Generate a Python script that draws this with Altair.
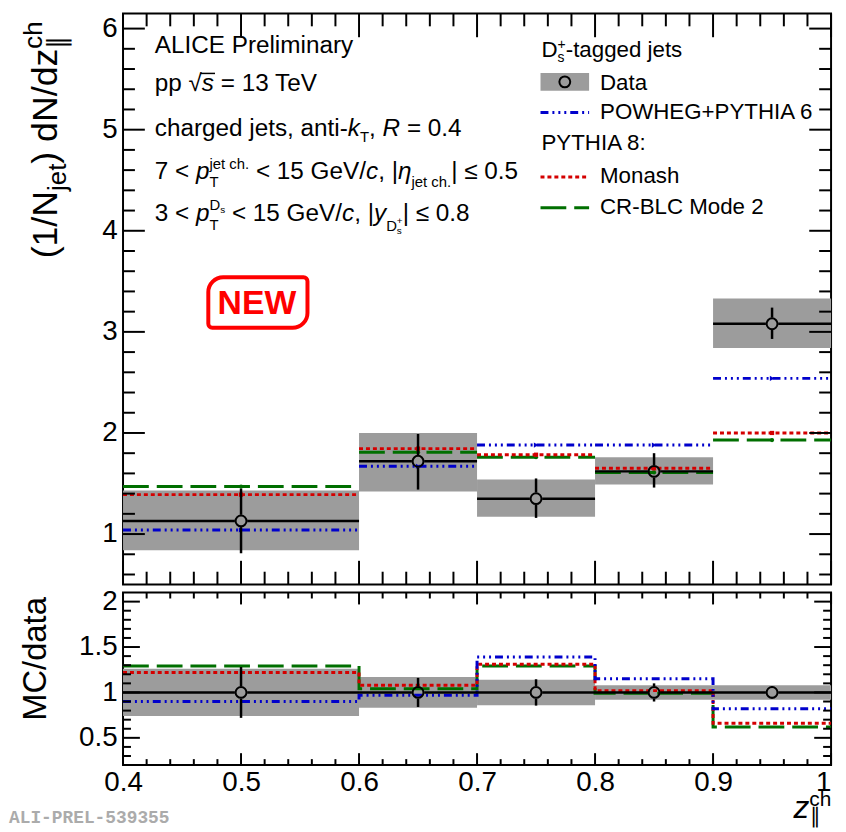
import altair as alt
import pandas as pd
import numpy as np

FONT = "Liberation Sans"
GRAY = "#9c9c9c"
BLUE = "#0000cc"
RED = "#d40000"
GREEN = "#006f00"
DASH_B = [8, 4, 2, 4, 2, 4, 2, 4]
DASH_R = [4, 3]
DASH_G = [26, 8]

# ---------------- data ----------------
bin_lo = [0.4, 0.6, 0.7, 0.8, 0.9]
bin_hi = [0.6, 0.7, 0.8, 0.9, 1.0]
bin_c = [0.5, 0.65, 0.75, 0.85, 0.95]
x_edges = [0.4, 0.6, 0.7, 0.8, 0.9, 1.0]

data_y = [1.13, 1.72, 1.35, 1.62, 3.08]
stat_lo = [0.81, 1.44, 1.16, 1.46, 2.93]
stat_hi = [1.45, 1.99, 1.55, 1.80, 3.24]
sys_lo = [0.84, 1.42, 1.17, 1.49, 2.84]
sys_hi = [1.43, 2.00, 1.54, 1.76, 3.33]
powheg = [1.04, 1.67, 1.88, 1.88, 2.54]
monash = [1.39, 1.845, 1.785, 1.65, 2.00]
crblc = [1.47, 1.81, 1.76, 1.61, 1.93]

r_data = [1.0, 1.0, 1.0, 1.0, 1.0]
r_sys_lo = [0.74, 0.83, 0.86, 0.92, 0.92]
r_sys_hi = [1.26, 1.17, 1.14, 1.08, 1.08]
r_stat_lo = [0.72, 0.84, 0.855, 0.90, 0.95]
r_stat_hi = [1.28, 1.16, 1.145, 1.10, 1.05]
r_powheg = [0.90, 0.97, 1.39, 1.15, 0.82]
r_monash = [1.22, 1.08, 1.31, 1.02, 0.66]
r_crblc = [1.29, 1.04, 1.29, 0.99, 0.62]

up_y_major = [1, 2, 3, 4, 5, 6]
lo_y_major = [0.5, 1, 1.5, 2]
x_major = [0.4, 0.5, 0.6, 0.7, 0.8, 0.9, 1.0]

# ---------------- geometry ----------------
W = 714
H1 = 576
H2 = 174
MS = 120
R = 6.2  # marker radius for error bar gaps

xs = alt.Scale(domain=[0.4, 1.0], nice=False, zero=False)
ys1 = alt.Scale(domain=[0.5, 6.15], nice=False, zero=False)
ys2 = alt.Scale(domain=[0.2, 2.1], nice=False, zero=False)

lab = dict(labelFont=FONT, labelFontSize=28, labelColor="black", grid=False, format="~g",
           ticks=False, tickSize=0, domain=False, title=None)
yax1 = alt.Axis(values=up_y_major, labelPadding=6, **lab)
yax2 = alt.Axis(values=lo_y_major, labelPadding=6, **lab)
xax2 = alt.Axis(values=x_major, labelPadding=4, labelFlush=False,
                labelAlign={"condition": {"test": "datum.value >= 0.999", "value": "right"},
                            "value": "center"}, **lab)

ONE = pd.DataFrame({"a": [0]})

AW = {' ': 278, '!': 278, '(': 333, ')': 333, '+': 584, ',': 278, '-': 333, '.': 278,
      '/': 278, ':': 278, '<': 584, '=': 584, '>': 584, '|': 260, '≤': 549, '√': 549,
      'η': 556, '∥': 500,
      'A': 667, 'B': 667, 'C': 722, 'D': 722, 'E': 667, 'G': 778, 'H': 722, 'I': 278,
      'L': 556, 'M': 833, 'N': 722, 'O': 778, 'P': 667, 'R': 722, 'S': 667, 'T': 611,
      'V': 667, 'W': 944, 'Y': 667,
      'a': 556, 'b': 556, 'c': 500, 'd': 556, 'e': 556, 'g': 556, 'h': 556, 'i': 222,
      'j': 222, 'k': 500, 'l': 222, 'm': 833, 'n': 556, 'o': 556, 'p': 556, 'r': 333,
      's': 500, 't': 278, 'u': 556, 'v': 500, 'y': 500, 'z': 500}
for d in "0123456789":
    AW[d] = 556


def tw(s, size):
    return sum(AW.get(ch, 556) for ch in s) * size / 1000.0


def T(s, x, y, size=24, italic=False, bold=False, color="black", angle=None,
      align="left", baseline="alphabetic", font=FONT):
    kw = dict(text=s, fontSize=size, font=font, color=color, align=align, baseline=baseline)
    if italic:
        kw["fontStyle"] = "italic"
    if bold:
        kw["fontWeight"] = "bold"
    if angle is not None:
        kw["angle"] = angle
    return alt.Chart(ONE).mark_text(**kw).encode(x=alt.value(x), y=alt.value(y))


class Cur:
    """Places text pieces one after another (SVG drops leading spaces, so we skip them)."""

    def __init__(self, x, y, size=24):
        self.x = x
        self.y = y
        self.size = size
        self.layers = []

    def put(self, s, size=None, dy=0, italic=False, advance=True, dx=0):
        size = size or self.size
        body = s.lstrip(" ")
        shift = tw(s[:len(s) - len(body)], size)
        self.layers.append(T(body, self.x + dx + shift, self.y + dy, size, italic))
        w = tw(s, size)
        if advance:
            self.x += w
        return w


def tick_layers(vals, orient, H, L, scale, axis, sw=2):
    df = pd.DataFrame({"v": vals})
    base = alt.Chart(df).mark_rule(color="black", strokeWidth=sw)
    if orient == "y":
        enc = alt.Y("v:Q", scale=scale, axis=axis)
        return [base.encode(y=enc, x=alt.value(0), x2=alt.value(L)),
                base.encode(y=enc, x=alt.value(W - L), x2=alt.value(W))]
    enc = alt.X("v:Q", scale=scale, axis=axis)
    return [base.encode(x=enc, y=alt.value(H - L), y2=alt.value(H)),
            base.encode(x=enc, y=alt.value(0), y2=alt.value(L))]


def minor(a, b, step, majstep):
    out = []
    for v in np.arange(a, b + step / 2, step):
        v = round(float(v), 4)
        if abs(v / majstep - round(v / majstep)) > 1e-6:
            out.append(v)
    return out


# ---------------- upper panel ----------------
df_up = pd.DataFrame(dict(lo=bin_lo, hi=bin_hi, c=bin_c, y=data_y, slo=stat_lo, shi=stat_hi,
                          ylo=sys_lo, yhi=sys_hi, pw=powheg, mo=monash, cr=crblc))
bu = alt.Chart(df_up)


def X1(f):
    return alt.X(f, type="quantitative", scale=xs, axis=None)


def Y1(f):
    return alt.Y(f, type="quantitative", scale=ys1, axis=yax1)


up = [
    bu.mark_rect(color=GRAY).encode(x=X1("lo"), x2="hi", y=Y1("ylo"), y2="yhi"),
    bu.mark_rule(color=GREEN, strokeWidth=3, strokeDash=DASH_G).encode(x=X1("lo"), x2="hi", y=Y1("cr")),
    bu.mark_point(shape="circle", filled=True, size=18, color=GREEN, opacity=1).encode(
        x=X1("c"), y=Y1("cr")),
    bu.mark_rule(color=RED, strokeWidth=3, strokeDash=DASH_R).encode(x=X1("lo"), x2="hi", y=Y1("mo")),
    bu.mark_point(shape="square", filled=True, size=18, color=RED, opacity=1).encode(
        x=X1("c"), y=Y1("mo")),
    bu.mark_rule(color=BLUE, strokeWidth=3, strokeDash=DASH_B).encode(x=X1("lo"), x2="hi", y=Y1("pw")),
    bu.mark_point(shape="triangle-right", filled=True, size=26, color=BLUE, opacity=1).encode(
        x=X1("c"), y=Y1("pw")),
    bu.mark_rule(color="black", strokeWidth=2.5, x2Offset=-R).encode(x=X1("lo"), x2="c", y=Y1("y")),
    bu.mark_rule(color="black", strokeWidth=2.5, xOffset=R).encode(x=X1("c"), x2="hi", y=Y1("y")),
    bu.mark_rule(color="black", strokeWidth=2.5, y2Offset=R).encode(x=X1("c"), y=Y1("slo"), y2="y"),
    bu.mark_rule(color="black", strokeWidth=2.5, y2Offset=-R).encode(x=X1("c"), y=Y1("shi"), y2="y"),
    bu.mark_point(shape="circle", filled=False, size=MS, color="black", strokeWidth=2,
                  opacity=1).encode(x=X1("c"), y=Y1("y")),
]
up += tick_layers(up_y_major, "y", H1, 22, ys1, yax1)
up += tick_layers(minor(0.6, 6.0, 0.2, 1.0), "y", H1, 12, ys1, yax1)
up += tick_layers(x_major, "x", H1, 24, xs, None)
up += tick_layers(minor(0.42, 0.98, 0.02, 0.1), "x", H1, 13, xs, None)

# text block (panel coords)
X0 = 32
FS = 24.5
SS = 15
up.append(T("ALICE Preliminary", X0, 40, FS))
c = Cur(X0, 78.5, FS)
c.put("pp ")
c.put("√")
s0 = c.x
c.put("s", italic=True)
s1 = c.x
c.put(" = 13 TeV")
up += c.layers
up.append(alt.Chart(ONE).mark_rule(color="black", strokeWidth=1.5).encode(
    x=alt.value(s0 - 1), x2=alt.value(s1 + 1), y=alt.value(78.5 - 18)))

c = Cur(X0, 123.5, FS)
c.put("charged jets, anti-")
c.put("k", italic=True)
c.put("T", SS, dy=6)
c.put(", ")
c.put("R", italic=True)
c.put(" = 0.4")
up += c.layers

c = Cur(X0, 166.5, FS)
c.put("7 < ")
c.put("p", italic=True)
w1 = c.put("T", SS, dy=9, advance=False)
w2 = c.put("jet ch.", SS, dy=-10, advance=False)
c.x += max(w1, w2)
c.put(" < 15 GeV/")
c.put("c", italic=True)
c.put(", |")
c.put("η", italic=True)
c.put("jet ch.", SS, dy=9)
c.put("| ≤ 0.5")
up += c.layers

c = Cur(X0, 209.5, FS)
c.put("3 < ")
c.put("p", italic=True)
wT = c.put("T", SS, dy=9, advance=False)
wD = c.put("D", SS, dy=-11, advance=False)
ws = c.put("s", 10, dy=-8, advance=False, dx=wD)
c.x += max(wT, wD + ws)
c.put(" < 15 GeV/")
c.put("c", italic=True)
c.put(", |")
c.put("y", italic=True)
c.put("D", SS, dy=10)
w1 = c.put("s", 10, dy=13, advance=False)
w2 = c.put("+", 10, dy=3, advance=False)
c.x += max(w1, w2)
c.put("| ≤ 0.8")
up += c.layers

# NEW badge
up.append(alt.Chart(ONE).mark_rect(fill="white", fillOpacity=0, stroke="#ff0000", strokeWidth=4,
                                   cornerRadiusTopLeft=15, cornerRadiusBottomRight=15,
                                   cornerRadiusTopRight=4, cornerRadiusBottomLeft=4).encode(
    x=alt.value(86), x2=alt.value(186), y=alt.value(266), y2=alt.value(317)))
up.append(T("NEW", 135, 293, 34, bold=True, color="#ff0000", align="center", baseline="middle"))

# legend
LX = 421
LX2 = 470
TX = 481
LS = 22.5
c = Cur(LX + 1, 44, LS)
c.put("D")
w1 = c.put("s", 14, dy=5, advance=False)
w2 = c.put("+", 14, dy=-8, advance=False)
c.x += max(w1, w2)
c.put("-tagged jets")
up += c.layers
up.append(alt.Chart(ONE).mark_rect(color=GRAY).encode(
    x=alt.value(LX), x2=alt.value(LX2), y=alt.value(60), y2=alt.value(78)))
up.append(alt.Chart(ONE).mark_point(shape="circle", filled=False, size=MS, color="black",
                                    strokeWidth=2, opacity=1).encode(
    x=alt.value((LX + LX2) / 2), y=alt.value(69)))
up.append(T("Data", TX, 77, LS))
up.append(alt.Chart(ONE).mark_rule(color=BLUE, strokeWidth=3, strokeDash=DASH_B).encode(
    x=alt.value(LX), x2=alt.value(LX2), y=alt.value(100)))
up.append(T("POWHEG+PYTHIA 6", TX, 106, LS))
up.append(T("PYTHIA 8:", LX + 1, 138, LS))
up.append(alt.Chart(ONE).mark_rule(color=RED, strokeWidth=3, strokeDash=DASH_R).encode(
    x=alt.value(LX), x2=alt.value(LX2), y=alt.value(165)))
up.append(T("Monash", TX, 171, LS))
up.append(alt.Chart(ONE).mark_rule(color=GREEN, strokeWidth=3, strokeDash=DASH_G).encode(
    x=alt.value(LX), x2=alt.value(LX2), y=alt.value(196)))
up.append(T("CR-BLC Mode 2", TX, 202, LS))

# y title (rotated)
bx = -67
yy = 247
up.append(T("(1/N", bx, yy, 36, angle=270))
yy -= tw("(1/N", 36)
up.append(T("jet", bx + 9, yy, 26, angle=270))
yy -= tw("jet", 26)
up.append(T(") dN/dz", bx, yy, 36, angle=270))
yy -= tw(") dN/dz", 36)
up.append(T("ch", bx - 15, yy, 26, angle=270))
up.append(T("∥", bx + 9, yy, 26, angle=270))

upper = alt.layer(*up).properties(width=W, height=H1)

# ---------------- lower panel ----------------
df_lo = pd.DataFrame(dict(lo=bin_lo, hi=bin_hi, c=bin_c, y=r_data, slo=r_stat_lo, shi=r_stat_hi,
                          ylo=r_sys_lo, yhi=r_sys_hi))
df_step = pd.DataFrame(dict(x=x_edges, pw=r_powheg + [r_powheg[-1]],
                            mo=r_monash + [r_monash[-1]], cr=r_crblc + [r_crblc[-1]]))
bl = alt.Chart(df_lo)
bs = alt.Chart(df_step)


def X2(f):
    return alt.X(f, type="quantitative", scale=xs, axis=xax2)


def Y2(f):
    return alt.Y(f, type="quantitative", scale=ys2, axis=yax2)


lo = [
    bl.mark_rect(color=GRAY).encode(x=X2("lo"), x2="hi", y=Y2("ylo"), y2="yhi"),
    bs.mark_line(color=GREEN, strokeWidth=3, strokeDash=DASH_G, interpolate="step-after").encode(
        x=X2("x"), y=Y2("cr")),
    bs.mark_line(color=RED, strokeWidth=3, strokeDash=DASH_R, interpolate="step-after").encode(
        x=X2("x"), y=Y2("mo")),
    bs.mark_line(color=BLUE, strokeWidth=3, strokeDash=DASH_B, interpolate="step-after").encode(
        x=X2("x"), y=Y2("pw")),
    bl.mark_rule(color="black", strokeWidth=2.5, x2Offset=-R).encode(x=X2("lo"), x2="c", y=Y2("y")),
    bl.mark_rule(color="black", strokeWidth=2.5, xOffset=R).encode(x=X2("c"), x2="hi", y=Y2("y")),
    bl.mark_rule(color="black", strokeWidth=2.5, y2Offset=R).encode(x=X2("c"), y=Y2("slo"), y2="y"),
    bl.mark_rule(color="black", strokeWidth=2.5, y2Offset=-R).encode(x=X2("c"), y=Y2("shi"), y2="y"),
    bl.mark_point(shape="circle", filled=False, size=MS, color="black", strokeWidth=2,
                  opacity=1).encode(x=X2("c"), y=Y2("y")),
]
lo += tick_layers(lo_y_major, "y", H2, 17, ys2, yax2)
lo += tick_layers(minor(0.3, 2.0, 0.1, 0.5), "y", H2, 8, ys2, yax2)
lo += tick_layers(x_major, "x", H2, 12, xs, xax2)
lo += tick_layers(minor(0.42, 0.98, 0.02, 0.1), "x", H2, 6, xs, xax2)

lo.append(T("MC/data", -78, 67, 33, angle=270, align="center"))
# x title
lo.append(T("z", 676, 227, 32, italic=True))
lo.append(T("ch", 692, 215, 21))
lo.append(T("∥", 693, 232, 21))
# watermark
lo.append(T("ALI-PREL-539355", -115, 232, 18, bold=True, color="#ababab", font="Liberation Mono"))

lower = alt.layer(*lo).properties(width=W, height=H2)

chart = alt.vconcat(upper, lower, spacing=0).properties(padding=0).configure_view(
    stroke="black", strokeWidth=2)

chart.save("out.html", embed_options={"renderer": "svg", "actions": False})
